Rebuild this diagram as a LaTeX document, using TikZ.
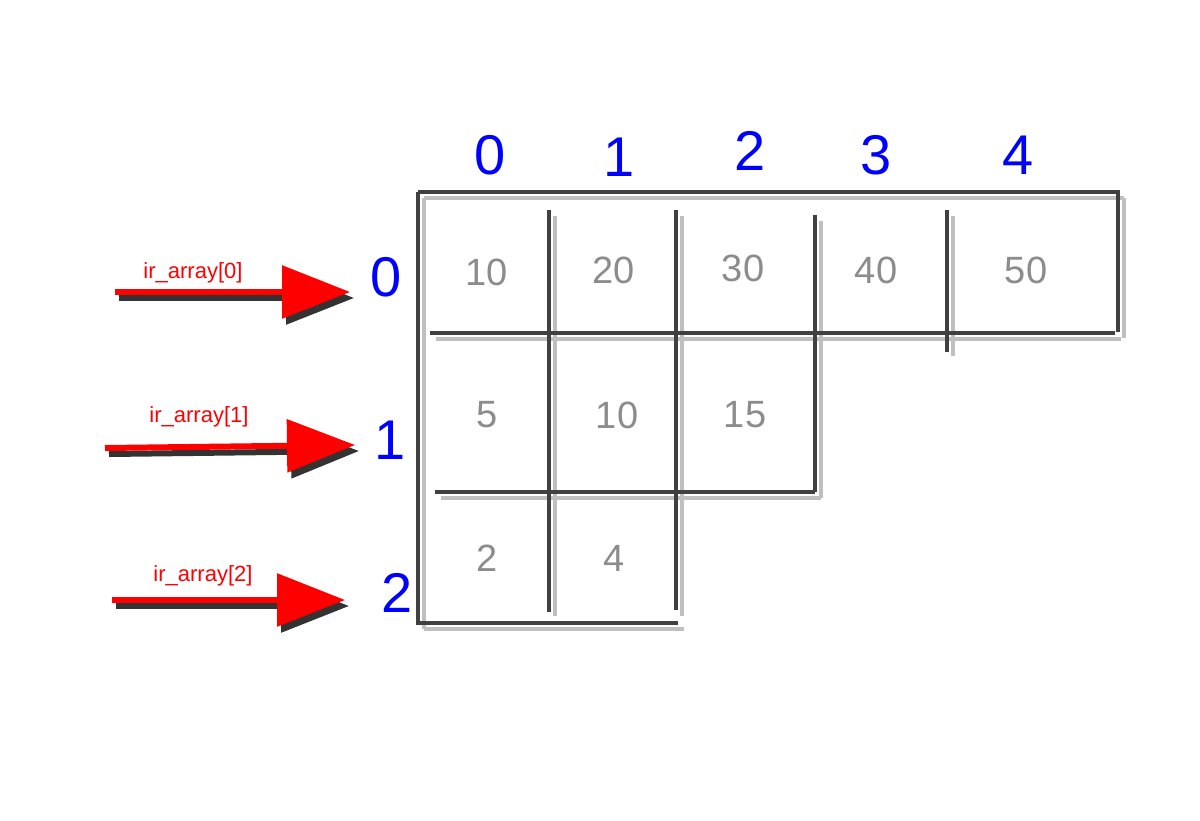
\documentclass[tikz,border=0pt]{standalone}
\usepackage{fontspec}
\setmainfont{Liberation Sans}
\usetikzlibrary{arrows.meta}
\begin{document}
\begin{tikzpicture}[x=0.5pt,y=-0.5pt,
  gl/.style={line width=1.6pt,draw=black!75},
  sh/.style={line width=2.2pt,draw=black!25},
  cell/.style={text=black!45,font=\fontsize{19}{19}\selectfont},
  idx/.style={text=blue,font=\fontsize{28}{28}\selectfont},
  lab/.style={text=red,font=\fontsize{11}{11}\selectfont},
  arr/.style={line width=3pt,draw=red,-{Triangle[length=34pt,width=26pt]}},
  arrsh/.style={line width=3pt,draw=black!80,-{Triangle[length=34pt,width=26pt]}}]
\useasboundingbox (0,0) rectangle (1200,820);
\fill[white] (0,0) rectangle (1200,820);
% shadows
\foreach \a/\b in {{(424,198)/(1124,198)},{(1124,198)/(1124,338)},{(436,339)/(1121,339)},{(441,498)/(821,498)},{(821,221)/(821,498)},{(424,629)/(684,629)},{(424,198)/(424,629)},{(555,216)/(555,616)},{(682,216)/(682,616)},{(953,216)/(953,356)}}
  \draw[sh] \a -- \b;
% grid
\draw[gl] (418,192) coordinate (tl) -- (1118,192) -- (1118,332);
\draw[gl] (418,192) -- (418,623) -- (678,623);
\draw[gl] (430,333) -- (1115,333);
\draw[gl] (435,492) -- (815,492);
\draw[gl] (815,215) -- (815,492);
\draw[gl] (549,210) -- (549,612);
\draw[gl] (676,210) -- (676,610);
\draw[gl] (947,210) -- (947,352);
% cells
\node[cell] (c00) at (487,272) {10};
\node[cell] (c01) at (614,270) {20};
\node[cell] (c02) at (743,268) {30};
\node[cell] (c03) at (876,270) {40};
\node[cell] (c04) at (1026,270) {50};
\node[cell] (c10) at (487,415) {5};
\node[cell] (c11) at (617,415) {10};
\node[cell] (c12) at (745,415) {15};
\node[cell] (c20) at (487,558) {2};
\node[cell] (c21) at (614,558) {4};
% column indices
\node[idx] (h0) at (490,155) {0};
\node[idx] (h1) at (619,157) {1};
\node[idx] (h2) at (750,151) {2};
\node[idx] (h3) at (876,155) {3};
\node[idx] (h4) at (1018,155) {4};
% row indices
\node[idx] (r0) at (386,277) {0};
\node[idx] (r1) at (390,440) {1};
\node[idx] (r2) at (397,593) {2};
% arrows
\coordinate (s0) at (115,292); \coordinate (e0) at (350,292);
\coordinate (s1) at (105,448); \coordinate (e1) at (355,445);
\coordinate (s2) at (112,600); \coordinate (e2) at (345,600);
\foreach \i in {0,1,2}{
  \draw[arrsh] ([shift={(4,6)}]s\i) -- ([shift={(4,6)}]e\i);
  \draw[arr] (s\i) -- (e\i);}
\node[lab] (l0) at (193,273) {ir\_array[0]};
\node[lab] (l1) at (199,417) {ir\_array[1]};
\node[lab] (l2) at (203,576) {ir\_array[2]};
\end{tikzpicture}
\end{document}
